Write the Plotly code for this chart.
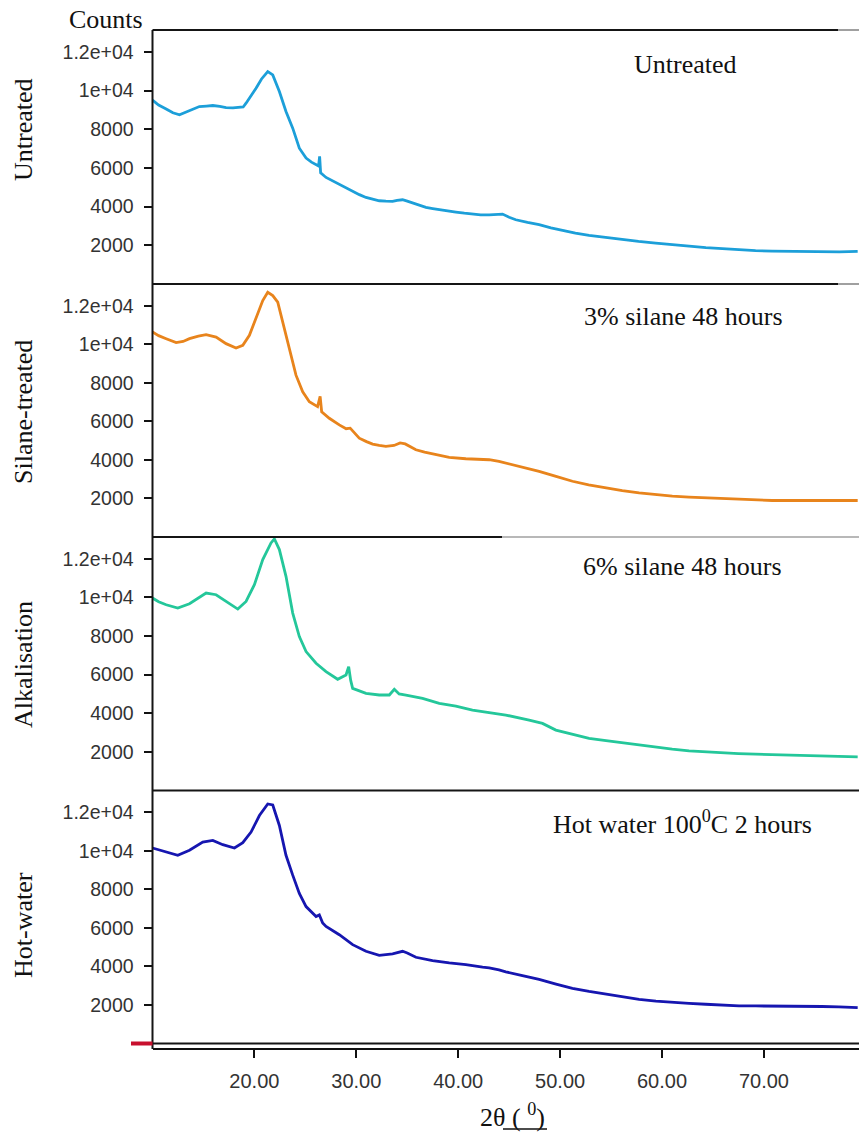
import plotly.graph_objects as go

# ---------------- data ----------------
UNT_X = [10.0, 10.6, 11.34, 12.0, 12.65, 13.3, 14.0, 14.6, 15.3, 15.92, 16.6, 17.22, 17.9, 18.53, 18.9, 19.18,
         19.7, 20.16, 20.7, 21.31, 21.8, 22.1, 22.45, 23.1, 23.76, 24.41, 25.07, 25.6, 26.05, 26.3, 26.4, 26.5,
         27.03, 27.6, 28.33, 29.0, 29.64, 30.3, 30.95, 31.6, 32.25, 32.9, 33.56, 34.0, 34.54, 35.0, 35.52, 36.2,
         36.83, 37.5, 38.14, 39.0, 39.77, 40.6, 41.4, 42.2, 43.04, 44.0, 44.35, 45.0, 45.65, 46.8, 47.94, 49.1,
         50.23, 51.5, 52.84, 54.5, 56.11, 57.7, 59.38, 61.0, 62.65, 64.3, 65.92, 67.5, 69.18, 70.8, 72.45, 74.1,
         75.72, 77.4, 79.2]
UNT_Y = [9500, 9250, 9050, 8850, 8750, 8880, 9050, 9174, 9200, 9226, 9180, 9122, 9100, 9122, 9150, 9346,
         9750, 10120, 10600, 10980, 10810, 10450, 9950, 8916, 8055, 7022, 6506, 6300, 6162, 6100, 6600, 5750,
         5508, 5350, 5164, 4950, 4785, 4620, 4475, 4380, 4303, 4280, 4268, 4320, 4355, 4280, 4182, 4050,
         3959, 3900, 3838, 3770, 3718, 3660, 3614, 3570, 3570, 3600, 3614, 3450, 3322, 3180, 3064, 2900,
         2754, 2630, 2513, 2400, 2289, 2200, 2117, 2030, 1945, 1880, 1824, 1770, 1721, 1700, 1687, 1670,
         1652, 1660, 1687]

SIL_X = [10.0, 10.6, 11.34, 12.32, 13.0, 13.63, 14.5, 15.26, 16.24, 16.7, 17.22, 18.2, 18.86, 19.51, 20.16,
         20.82, 21.31, 21.8, 22.29, 22.78, 23.43, 24.08, 24.74, 25.39, 26.2, 26.45, 26.6, 27.35, 28.33, 29.0,
         29.4, 29.8, 30.29, 31.0, 31.6, 32.25, 32.9, 33.7, 34.3, 34.8, 35.85, 36.7, 37.48, 38.3, 39.12, 40.75,
         42.39, 43.04, 44.0, 44.67, 46.3, 47.94, 49.6, 51.21, 52.8, 54.48, 56.1, 57.75, 59.4, 61.01, 62.65,
         64.28, 65.9, 67.55, 69.2, 70.82, 72.45, 74.09, 75.7, 77.35, 79.2]
SIL_Y = [10637, 10450, 10292, 10086, 10150, 10292, 10420, 10499, 10378, 10200, 10034, 9811, 9948, 10465, 11325,
         12272, 12702, 12530, 12186, 11153, 9776, 8399, 7539, 7022, 6764, 7300, 6500, 6162, 5818, 5620,
         5650, 5400, 5129, 4950, 4819, 4750, 4699, 4750, 4880, 4830, 4527, 4400, 4303, 4200, 4131, 4062,
         4010, 4010, 3924, 3838, 3620, 3408, 3150, 2892, 2700, 2547, 2410, 2289, 2200, 2117, 2070,
         2031, 1990, 1945, 1915, 1893, 1893, 1893, 1880, 1859, 1893]

ALK_X = [10.0, 10.6, 11.34, 12.48, 13.63, 14.5, 15.26, 16.24, 17.22, 17.9, 18.37, 19.18, 20.0, 20.82, 21.63,
         21.96, 22.45, 23.1, 23.76, 24.41, 25.07, 26.05, 27.03, 28.17, 28.99, 29.25, 29.45, 29.64, 30.95,
         32.25, 33.24, 33.73, 34.2, 34.87, 35.6, 36.5, 38.14, 39.77, 41.4, 43.04, 44.0, 44.67, 46.96, 48.27,
         49.58, 51.2, 52.84, 54.5, 56.11, 57.75, 59.38, 61.0, 62.65, 64.3, 65.92, 67.5, 69.18, 70.8, 72.45,
         74.1, 75.72, 77.4, 79.2]
ALK_Y = [9967, 9780, 9620, 9447, 9673, 9950, 10227, 10140, 9794, 9600, 9396, 9794, 10660, 11958, 12824,
         13032, 12478, 11093, 9188, 7976, 7197, 6591, 6158, 5760, 5985, 6418, 5700, 5292, 5032,
         4946, 4946, 5240, 5000, 4946, 4860, 4773, 4513, 4374, 4166, 4050, 3993, 3907, 3647, 3474,
         3128, 2900, 2695, 2580, 2470, 2350, 2227, 2140, 2054, 2000, 1950, 1915, 1881, 1855, 1829,
         1800, 1777, 1760, 1742]

HOT_X = [10.0, 10.6, 11.34, 12.48, 13.63, 14.93, 15.92, 16.9, 18.04, 18.86, 19.67, 20.49, 21.31, 21.8, 22.45,
         23.1, 23.76, 24.41, 25.07, 26.05, 26.37, 26.7, 27.03, 28.33, 29.64, 30.95, 32.25, 33.56, 34.54, 35.0,
         35.85, 37.48, 39.12, 40.75, 42.39, 43.04, 44.0, 44.67, 46.3, 47.94, 49.6, 51.21, 52.84, 54.48, 56.1,
         57.75, 59.4, 61.01, 62.65, 64.28, 65.9, 67.55, 69.2, 70.82, 72.45, 74.09, 75.7, 77.35, 79.2]
HOT_Y = [10146, 10050, 9940, 9768, 10026, 10455, 10541, 10318, 10146, 10421, 10971, 11830, 12431, 12380, 11314,
         9768, 8737, 7792, 7105, 6589, 6675, 6250, 6074, 5644, 5129, 4785, 4579, 4648, 4785, 4700,
         4476, 4304, 4184, 4098, 3960, 3926, 3820, 3720, 3520, 3325, 3080, 2861, 2700, 2552, 2420,
         2294, 2200, 2122, 2080, 2036, 1990, 1950, 1950, 1950, 1950, 1950, 1920, 1899, 1864]

ROW_LABELS = ["Untreated", "Silane-treated", "Alkalisation", "Hot-water"]
PANEL_LABELS = ["Untreated", "3% silane 48 hours", "6% silane 48 hours", "Hot water 100<sup>0</sup>C 2 hours"]
COLORS = ["#1c9fd9", "#e8841c", "#24c79a", "#1616b0"]
Y_TICKS = [2000, 4000, 6000, 8000, 10000, 12000]
Y_TICKTEXT = ["2000", "4000", "6000", "8000", "1e+04", "1.2e+04"]
X_TICKS = [20, 30, 40, 50, 60, 70]
X_TICKTEXT = ["20.00", "30.00", "40.00", "50.00", "60.00", "70.00"]

SERIES = [(UNT_X, UNT_Y), (SIL_X, SIL_Y), (ALK_X, ALK_Y), (HOT_X, HOT_Y)]

# ---------------- layout helpers (pixel -> paper) ----------------
W, H = 859, 1135
def px(x):
    return x / W
def py(y):
    return 1 - y / H

X0 = 152.5
panel_edges = [30, 284, 537, 790.5, 1043.5]
X_RANGE = [10, 79.33]
Y_RANGE = [0, 13130]

fig = go.Figure()
layout = dict(
    width=W, height=H, margin=dict(l=0, r=0, t=0, b=0),
    plot_bgcolor="white", paper_bgcolor="white", showlegend=False,
)

ytickfont = dict(family="Liberation Sans, Arial, sans-serif", size=19.5, color="#333333")
xtickfont = dict(family="Liberation Sans, Arial, sans-serif", size=20, color="#333333")
serif = "Liberation Serif, Times New Roman, serif"

for i, (xs, ys) in enumerate(SERIES):
    n = i + 1
    xa = "x" if n == 1 else f"x{n}"
    ya = "y" if n == 1 else f"y{n}"
    fig.add_trace(go.Scatter(x=xs, y=ys, mode="lines", xaxis=xa, yaxis=ya,
                             line=dict(color=COLORS[i], width=2.8), hoverinfo="skip"))
    dom = [py(panel_edges[i + 1]), py(panel_edges[i])]
    xkey = "xaxis" if n == 1 else f"xaxis{n}"
    ykey = "yaxis" if n == 1 else f"yaxis{n}"
    if n < 4:
        layout[xkey] = dict(domain=[px(X0), 1], range=X_RANGE, anchor=ya, showticklabels=False,
                            showline=False, ticks="", showgrid=False, zeroline=False)
    else:
        layout[xkey] = dict(domain=[px(X0), 1], range=X_RANGE, anchor="free", position=py(1049),
                            showline=True, linecolor="#111111", linewidth=2,
                            tickmode="array", tickvals=X_TICKS, ticktext=X_TICKTEXT,
                            ticks="outside", ticklen=8, tickwidth=2, tickcolor="#111111",
                            tickfont=xtickfont, ticklabelstandoff=6,
                            showgrid=False, zeroline=False)
    layout[ykey] = dict(domain=dom, range=Y_RANGE, anchor=xa, showline=False,
                        tickmode="array", tickvals=Y_TICKS, ticktext=Y_TICKTEXT,
                        ticks="outside", ticklen=8, tickwidth=2, tickcolor="#111111",
                        tickfont=ytickfont, ticklabelstandoff=6,
                        showgrid=False, zeroline=False)

fig.update_layout(**layout)

dark = "#151515"
light = "#a0a0a0"
shapes = []
def hline(y, x1, x2, color, w=2):
    shapes.append(dict(type="line", xref="paper", yref="paper", x0=px(x1), x1=px(x2),
                       y0=py(y), y1=py(y), line=dict(color=color, width=w)))

hline(30, X0, 838, dark); hline(30, 838, 859, light)
hline(284, X0, 838, dark); hline(284, 838, 859, light)
hline(537, X0, 502, dark); hline(537, 502, 859, light, 1.5)
hline(790.5, X0, 859, dark)
hline(1043.5, X0, 859, dark)
# underline of the x-axis title's unit
hline(1129, 503, 547, "#111111", 1.5)
# left spine
shapes.append(dict(type="line", xref="paper", yref="paper", x0=px(X0), x1=px(X0),
                   y0=py(30), y1=py(1049), line=dict(color=dark, width=2)))
# red marker at the bottom-left
shapes.append(dict(type="line", xref="paper", yref="paper", x0=px(131), x1=px(X0),
                   y0=py(1043.5), y1=py(1043.5), line=dict(color="#c8102e", width=4)))
fig.update_layout(shapes=shapes)

ann = []
ann.append(dict(text="Counts", x=px(106), y=py(19), xref="paper", yref="paper", showarrow=False,
                font=dict(family=serif, size=26, color="#111111"), xanchor="center", yanchor="middle"))
row_centers = [130, 412, 665, 925]
for lab, yc in zip(ROW_LABELS, row_centers):
    ann.append(dict(text=lab, x=px(23), y=py(yc), xref="paper", yref="paper", showarrow=False,
                    textangle=-90, font=dict(family=serif, size=26, color="#111111"),
                    xanchor="center", yanchor="middle"))
panel_label_pos = [(685, 64), (683, 316), (682, 566), (682, 822)]
for lab, (xc, yc) in zip(PANEL_LABELS, panel_label_pos):
    ann.append(dict(text=lab, x=px(xc), y=py(yc), xref="paper", yref="paper", showarrow=False,
                    font=dict(family=serif, size=26, color="#111111"),
                    xanchor="center", yanchor="middle"))
ann.append(dict(text="2θ ( <sup>0</sup>)", x=px(512), y=py(1115), xref="paper", yref="paper",
                showarrow=False, font=dict(family=serif, size=26, color="#111111"),
                xanchor="center", yanchor="middle"))
fig.update_layout(annotations=ann)

fig.write_html("out.html")
